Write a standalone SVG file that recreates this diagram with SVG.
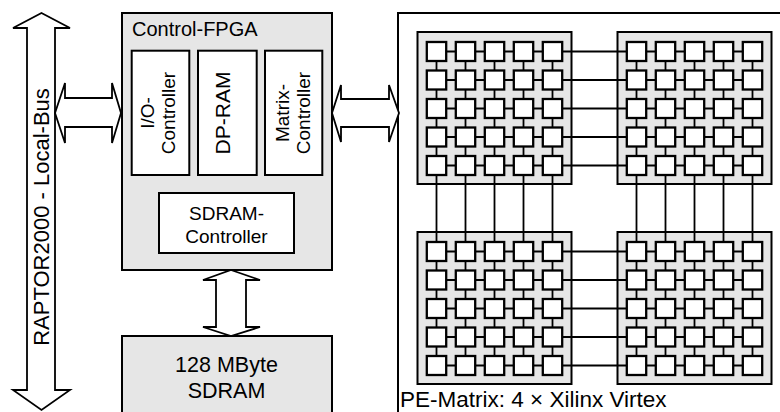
<svg xmlns="http://www.w3.org/2000/svg" xmlns:xlink="http://www.w3.org/1999/xlink" width="780" height="412" viewBox="0 0 780 412">
<style>
.box{fill:#e6e6e6;stroke:#000;stroke-width:2}
.wbox{fill:#fff;stroke:#000;stroke-width:2}
.arr{fill:#fff;stroke:#000;stroke-width:1.8;stroke-linejoin:miter}
.ln{stroke:#000;stroke-width:1.8;fill:none}
.cell{fill:#fff;stroke:#000;stroke-width:2.3}
text{font-family:"Liberation Sans",Arial,sans-serif;font-size:20px;fill:#000}
.mid{text-anchor:middle}
</style>
<defs>
<g id="sub">
<rect class="box" x="0" y="0" width="154" height="152"/>
<g class="ln">
<path d="M19 19.5H135M19 48H135M19 76.5H135M19 105H135M19 133.5H135"/>
<path d="M19 19.5V133.5M48 19.5V133.5M77 19.5V133.5M106 19.5V133.5M135 19.5V133.5"/>
</g>
<g id="row">
<rect class="cell" x="9.3" y="10" width="19.4" height="19"/>
<rect class="cell" x="38.3" y="10" width="19.4" height="19"/>
<rect class="cell" x="67.3" y="10" width="19.4" height="19"/>
<rect class="cell" x="96.3" y="10" width="19.4" height="19"/>
<rect class="cell" x="125.3" y="10" width="19.4" height="19"/>
</g>
<use xlink:href="#row" y="28.5"/>
<use xlink:href="#row" y="57"/>
<use xlink:href="#row" y="85.5"/>
<use xlink:href="#row" y="114"/>
</g>
</defs>

<g id="local-bus">
<polygon class="arr" points="41.5,13 70,28 55,28 55,390 70,390 41.5,410 13,390 27,390 27,28 13,28"/>
<text class="mid" transform="translate(49,217) rotate(-90)" style="font-size:22px">RAPTOR2000 - Local-Bus</text>
</g>

<g id="control-fpga">
<rect class="box" x="122" y="13" width="210" height="257"/>
<text x="132" y="36">Control-FPGA</text>
</g>

<g id="io-controller">
<rect class="wbox" x="131.7" y="50.7" width="57.6" height="124.3"/>
<text class="mid" transform="translate(153.5,113) rotate(-90)" style="font-size:19px">I/O-</text>
<text class="mid" transform="translate(175,113) rotate(-90)" style="font-size:19px">Controller</text>
</g>

<g id="dp-ram">
<rect class="wbox" x="198" y="50.7" width="58.7" height="124.3"/>
<text class="mid" transform="translate(230,113) rotate(-90)" style="font-size:21px">DP-RAM</text>
</g>

<g id="matrix-controller">
<rect class="wbox" x="265" y="50.7" width="57.3" height="124.3"/>
<text class="mid" transform="translate(288.5,113) rotate(-90)" style="font-size:19px">Matrix-</text>
<text class="mid" transform="translate(309.5,113) rotate(-90)" style="font-size:19px">Controller</text>
</g>

<g id="sdram-controller">
<rect class="wbox" x="159" y="193" width="135" height="60"/>
<text class="mid" x="226.5" y="220" style="font-size:19px">SDRAM-</text>
<text class="mid" x="226.5" y="243" style="font-size:19px">Controller</text>
</g>

<g id="sdram">
<rect class="box" x="122" y="336" width="210" height="90"/>
<text class="mid" x="226.5" y="372" style="font-size:21.5px">128 MByte</text>
<text class="mid" x="226.5" y="398" style="font-size:21.5px">SDRAM</text>
</g>

<g id="pe-matrix">
<rect fill="#fff" stroke="#000" stroke-width="2" x="398" y="13" width="400" height="420"/>
<text x="400" y="406.5" style="font-size:22.5px">PE-Matrix: 4 × Xilinx Virtex</text>
</g>

<g id="fpga-1"><use xlink:href="#sub" x="417.5" y="32"/></g>
<g id="fpga-2"><use xlink:href="#sub" x="617.5" y="32"/></g>
<g id="fpga-3"><use xlink:href="#sub" x="417.5" y="232"/></g>
<g id="fpga-4"><use xlink:href="#sub" x="617.5" y="232"/></g>

<g id="connectors">
<polygon class="arr" points="55,113 65,83 65,98 112,98 112,83 121,113 112,143 112,127 65,127 65,143"/>
<polygon class="arr" points="332,113 341,85 341,99 389,99 389,85 399,113 389,142 389,127 341,127 341,142"/>
<polygon class="arr" points="231,270 260,280 246,280 246,327 260,327 231,336 203,327 216,327 216,280 203,280"/>
<g class="ln">
<path d="M562 51.5H627M562 80H627M562 108.5H627M562 137H627M562 165.5H627"/>
<path d="M562 251.5H627M562 280H627M562 308.5H627M562 337H627M562 365.5H627"/>
<path d="M436.5 175V242M465.5 175V242M494.5 175V242M523.5 175V242M552.5 175V242"/>
<path d="M636.5 175V242M665.5 175V242M694.5 175V242M723.5 175V242M752.5 175V242"/>
</g>
</g>
</svg>
